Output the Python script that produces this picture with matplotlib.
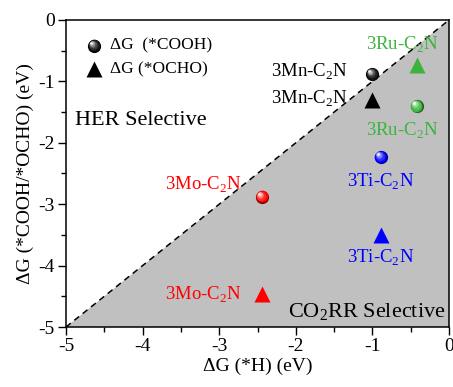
import matplotlib
matplotlib.use("Agg")
import matplotlib.pyplot as plt
import matplotlib.transforms as mtransforms
import numpy as np
from matplotlib.colors import to_rgb

plt.rcParams['font.family'] = ['Liberation Serif', 'DejaVu Serif']
plt.rcParams['mathtext.fontset'] = 'custom'
plt.rcParams['mathtext.rm'] = 'Liberation Serif'

materials = ['3Mn-C$_2$N', '3Ru-C$_2$N', '3Ti-C$_2$N', '3Mo-C$_2$N']
colors = ['black', '#3cb33c', '#0000ff', '#ff0000']
dG_H = [-1.00, -0.42, -0.89, -2.44]
dG_COOH = [-0.88, -1.40, -2.23, -2.88]
dG_OCHO = [-1.30, -0.73, -3.50, -4.46]
# label positions (x, y) for COOH and OCHO labels
lab_cooh = [(-1.82, -0.85), (-0.61, -1.80), (-0.89, -2.64), (-3.21, -2.69)]
lab_ocho = [(-1.82, -1.28), (-0.61, -0.40), (-0.89, -3.88), (-3.21, -4.48)]

fig = plt.figure(figsize=(4.53, 3.87), dpi=100)
ax = fig.add_axes([66/453, 1-327/387, 383/453, 307/387])
ax.set_xlim(-5, 0)
ax.set_ylim(-5, 0)

ax.fill([-5, 0, 0], [-5, 0, -5], color='#c0c0c0', zorder=0, lw=0)
ax.plot([-5, 0], [-5, 0], ls=(0, (4, 3)), color='black', lw=1.1, zorder=1)


def sphere(x, y, color, size=9.5, zorder=3):
    base = np.array(to_rgb(color))
    dark = base * 0.55
    n = 8
    for i in range(n):
        t = i / (n - 1)
        if i == 0:
            c = dark
        else:
            c = base + (np.ones(3) - base) * (t ** 2) * 0.95
            if np.all(base == 0):
                c = np.ones(3) * (0.05 + 0.9 * t ** 2)
        s = size * (1 - 0.8 * t)
        off = mtransforms.offset_copy(ax.transData, fig=fig,
                                      x=-size * 0.22 * t, y=size * 0.22 * t, units='points')
        ax.plot([x], [y], 'o', ms=s, color=c, mec='none', transform=off, zorder=zorder + i * 0.01,
                clip_on=False)


for i in range(4):
    sphere(dG_H[i], dG_COOH[i], colors[i])
    ax.plot(dG_H[i], dG_OCHO[i], '^', ms=11, color=colors[i], mec='none', zorder=3)
    ax.text(*lab_cooh[i], materials[i], color=colors[i], fontsize=13.5, ha='center', va='center')
    ax.text(*lab_ocho[i], materials[i], color=colors[i], fontsize=13.5, ha='center', va='center')

# legend
sphere(-4.63, -0.42, 'black', size=9.5)
ax.plot(-4.63, -0.80, '^', ms=11, color='black', mec='none')
ax.text(-4.42, -0.42, r'ΔG  (*COOH)', fontsize=12.5, va='center', ha='left')
ax.text(-4.42, -0.80, r'ΔG (*OCHO)', fontsize=12.5, va='center', ha='left')

ax.text(-4.88, -1.63, 'HER Selective', fontsize=16, va='center', ha='left')
ax.text(-0.05, -4.76, 'CO$_2$RR Selective', fontsize=16, va='center', ha='right')

ax.set_xticks([-5, -4, -3, -2, -1, 0])
ax.set_yticks([-5, -4, -3, -2, -1, 0])
ax.set_xticks(np.arange(-4.5, 0, 1), minor=True)
ax.set_yticks(np.arange(-4.5, 0, 1), minor=True)
ax.set_xticklabels(['-5', '-4', '-3', '-2', '-1', '0'])
ax.set_yticklabels(['-5', '-4', '-3', '-2', '-1', '0'])
ax.tick_params(which='major', direction='out', length=6, width=1, labelsize=14, pad=2)
ax.tick_params(which='minor', direction='out', length=3.5, width=1)
for s in ax.spines.values():
    s.set_linewidth(1.1)
ax.set_xlabel('ΔG (*H) (eV)', fontsize=14, labelpad=2)
ax.set_ylabel('ΔG (*COOH/*OCHO) (eV)', fontsize=14, labelpad=3)

fig.savefig('out.png', dpi=100)
